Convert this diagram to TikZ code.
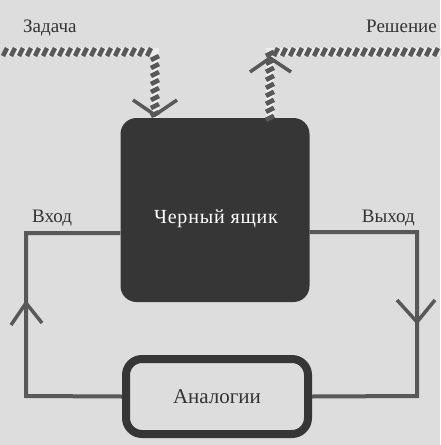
\documentclass[tikz,border=0pt]{standalone}
\usepackage{fontspec}
\setmainfont{Liberation Serif}
\newfontfamily\spacedserif[LetterSpace=4]{Liberation Serif}
\usetikzlibrary{decorations.markings}
\definecolor{paper}{HTML}{DDDDDD}
\definecolor{ink}{HTML}{333333}
\definecolor{boxfill}{HTML}{363636}
\definecolor{linegray}{HTML}{585858}
\definecolor{hatchlight}{HTML}{ECECEC}
\tikzset{
  lbl/.style={font=\fontsize{19}{21}\selectfont, text=ink, inner sep=0pt},
  blackbox/.style={fill=boxfill, rounded corners=16pt, minimum width=189pt, minimum height=184pt, inner sep=0pt},
  boxtext/.style={text=white, font=\spacedserif\fontsize{20}{22}\selectfont, inner sep=0pt},
  analogbox/.style={draw=boxfill, line width=8pt, rounded corners=16pt, minimum width=182pt, minimum height=75pt, font=\fontsize{21}{23}\selectfont, text=ink, inner sep=0pt},
  loopline/.style={draw=linegray, line width=4pt},
  vtip/.style={draw=linegray, line width=3.5pt, line cap=butt, line join=miter},
  hatchbase/.style={draw=hatchlight, line width=8pt},
  hatchedA/.style={postaction={decorate}, decoration={markings, mark=between positions 0 and 1 step 8pt with {\draw[draw=linegray, line width=4.6pt] (-2,4) -- (2,-4);}}},
  hatchedB/.style={postaction={decorate}, decoration={markings, mark=between positions 0 and 1 step 8pt with {\draw[draw=linegray, line width=4.6pt] (2,4) -- (-2,-4);}}},
}
\begin{document}
\begin{tikzpicture}[x=1pt, y=-1pt]
  \useasboundingbox (0,0) rectangle (440,445);
  \fill[paper] (0,0) rectangle (440,445);

  % nodes
  \node[blackbox] (box) at (215,210) {};
  \node[boxtext, anchor=base] (bt) at (216,223) {Черный ящик};
  \node[analogbox] (analog) at (217,396.5) {Аналогии};

  \node[lbl, anchor=base west] (task) at (23,32) {Задача};
  \node[lbl, anchor=base east] (sol) at (437,32) {Решение};
  \node[lbl, anchor=base west] (inp) at (32,222) {Вход};
  \node[lbl, anchor=base east] (outp) at (415,222) {Выход};

  % hatched connectors: Задача -> box
  \coordinate (zstart) at (5,52);
  \coordinate (zcorner) at (155,52);
  \draw[hatchbase, line join=miter] (zstart) -- (zcorner) -- (zcorner |- box.north);
  \path[hatchedA] (zstart) -- (zcorner);
  \path[hatchedB] (zcorner) ++(0,6) -- (zcorner |- box.north);
  \coordinate (ztip) at (155,115);
  \draw[vtip] (ztip) ++(-22,-15) -- (ztip) -- ++(22,-15);

  % box -> Решение
  \coordinate (rcorner) at (270,52);
  \coordinate (rend) at (441,52);
  \draw[hatchbase, line join=miter] (rcorner |- box.north) -- (rcorner) -- (rend);
  \path[hatchedB] (rcorner |- box.north) -- (rcorner);
  \path[hatchedA] (rcorner) ++(6,0) -- (rend);
  \coordinate (rtip) at (270,58);
  \draw[vtip] (rtip) ++(-20,14) -- (rtip) -- ++(21,14);

  % loops
  \coordinate (inL) at (26,233);
  \coordinate (outL) at (26,396);
  \draw[loopline] (analog.west) -- (outL) -- (inL) -- (inL -| box.west);
  \coordinate (tipL) at (26,303);
  \draw[vtip] (tipL) ++(-15,22) -- (tipL) -- ++(16,20);

  \coordinate (outR) at (417,232);
  \coordinate (inR) at (417,396);
  \draw[loopline] (outR -| box.east) -- (outR) -- (inR) -- (analog.east);
  \coordinate (tipR) at (417,322);
  \draw[vtip] (tipR) ++(-20,-22) -- (tipR) -- ++(18,-22);
\end{tikzpicture}
\end{document}
